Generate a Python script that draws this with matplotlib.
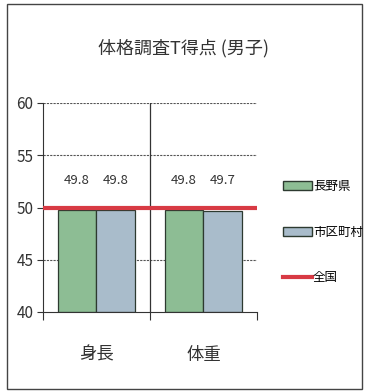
import matplotlib
matplotlib.use("Agg")
import matplotlib.pyplot as plt
from matplotlib.patches import Rectangle, Patch
from matplotlib.lines import Line2D
import numpy as np

plt.rcParams['font.family'] = ['Noto Sans CJK JP', 'DejaVu Sans']

categories = ['身長', '体重']
series_names = ['長野県', '市区町村']
nagano = [49.8, 49.8]
shikuchoson = [49.8, 49.7]
national = 50.0
national_name = '全国'
title = '体格調査T得点 (男子)'
yticks = [40, 45, 50, 55, 60]

green = '#8dbd94'
blue = '#a9bccb'
red = '#d83a44'

fig = plt.figure(figsize=(3.67, 3.92), dpi=100)
ax = fig.add_axes([43/367, 1-312/392, 214/367, 209/392])

x = np.arange(len(categories))
w = 0.364
ax.bar(x - w/2, np.array(nagano) - 40, w, bottom=40, color=green, edgecolor='#2d3a30', linewidth=0.9, zorder=2)
ax.bar(x + w/2, np.array(shikuchoson) - 40, w, bottom=40, color=blue, edgecolor='#2d3a30', linewidth=0.9, zorder=2)
ax.axhline(national, color=red, linewidth=3, zorder=4)

for xi, v in zip(x - w/2, nagano):
    ax.text(xi, 52.6, f'{v:.1f}', ha='center', va='center', fontsize=9.5, color='#333333')
for xi, v in zip(x + w/2, shikuchoson):
    ax.text(xi, 52.6, f'{v:.1f}', ha='center', va='center', fontsize=9.5, color='#333333')

ax.set_xlim(-0.5, 1.5)
ax.set_ylim(40, 60)
ax.set_yticks(yticks)
ax.set_yticklabels([str(t) for t in yticks], fontsize=11, color='#333333')
for t in yticks[1:]:
    ax.axhline(t, color='#555555', linewidth=0.8, linestyle=(0, (2, 1)), zorder=1)
ax.axvline(0.5, color='#333333', linewidth=0.9, zorder=1)
ax.set_xticks([-0.5, 0.5, 1.5])
ax.set_xticklabels([])
ax.tick_params(axis='x', length=6, direction='out', color='#333333')
ax.tick_params(axis='y', length=4, direction='out', color='#333333', pad=3)
for i, c in enumerate(categories):
    ax.text(i, 35.9, c, ha='center', va='center', fontsize=12.5, color='#333333')
for s in ['top', 'right']:
    ax.spines[s].set_visible(False)
ax.spines['left'].set_color('#333333')
ax.spines['bottom'].set_color('#333333')

fig.text(184/367, 1-48/392, title, ha='center', va='center', fontsize=13, color='#333333')

handles = [Patch(facecolor=green, edgecolor='#2d3a30'),
           Patch(facecolor=blue, edgecolor='#2d3a30'),
           Line2D([0], [0], color=red, linewidth=3)]
labels = series_names + [national_name]
fig.legend(handles, labels, loc='center left', bbox_to_anchor=(283/367, 1-232/392),
           frameon=False, fontsize=9, handlelength=2.3, handleheight=0.7,
           handletextpad=0.1, labelspacing=2.6, borderaxespad=0, borderpad=0)

fig.add_artist(Rectangle((7/367, 3/392), 355/367, 385/392, transform=fig.transFigure,
                         fill=False, edgecolor='#444444', linewidth=1.0))

fig.savefig('out.png', dpi=100)
